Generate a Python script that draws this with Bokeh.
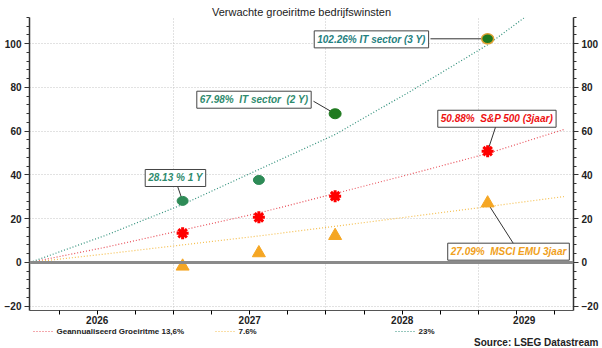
from bokeh.plotting import figure
from bokeh.layouts import column
from bokeh.models import (Range1d, FixedTicker, SingleIntervalTicker, LinearAxis,
                          Label, Span)
from bokeh.core.properties import value
from bokeh.embed import file_html
from bokeh.resources import INLINE

# ---------------- data ----------------
START = 2026.06  # start of the projection (years)
# growth curves (years from start, cumulative %)
t_line = [0, 0.5, 1, 1.5, 2, 2.5, 3, 3.5]
red_136 = [0, 7.0, 14.8, 22.6, 31.5, 40.5, 49.8, 60.8]
orange_76 = [0, 3.9, 8.0, 12.1, 16.5, 21.0, 25.5, 30.1]
t_green = [0, 0.5, 1, 1.5, 2, 2.5, 3, 3.3]
green_23 = [0, 12.5, 26.5, 42.5, 58.5, 78.5, 99.5, 115.0]

# estimates (years from start)
t_pts = [1, 1.5, 2, 3]
it_sector = [28.13, 37.7, 67.98, 102.26]
sp500 = [13.3, 20.6, 30.3, 50.88]
msci_emu = [-1.8, 4.3, 12.2, 27.09]

year_labels = ["2026", "2027", "2028", "2029"]
legend_labels = ["Geannualiseerd Groeiritme 13,6%", "7.6%", "23%"]
title_text = "Verwachte groeiritme bedrijfswinsten"
source_text = "Source: LSEG Datastream"

FONT = "Liberation Sans"
GREEN_LINE = "#2f8f7a"
RED_LINE = "#e8505a"
ORANGE_LINE = "#f5bf50"
NB = "\u00a0"

p = figure(width=602, height=326, output_backend="svg", toolbar_location=None,
           x_range=Range1d(2026.056, 2029.623), y_range=Range1d(-22, 112),
           min_border_left=29, min_border_right=29, min_border_top=17,
           min_border_bottom=15, outline_line_color=None,
           background_fill_color="white", border_fill_color="white")
p.frame_align = False
p.title.text = title_text
p.title.align = "center"
p.title.text_font = FONT
p.title.text_font_size = "11px"
p.title.text_font_style = "normal"
p.title.text_color = "#222222"
p.title.standoff = 0

xs = lambda ts: [START + t for t in ts]

# grid
p.xgrid.ticker = FixedTicker(ticks=[2027, 2028, 2029])
for g in (p.xgrid, p.ygrid):
    g.grid_line_color = "#c4c4c4"
    g.grid_line_dash = "1 2"
    g.grid_line_width = 1

p.add_layout(Span(location=0, dimension="width", line_color="#8a8a8a", line_width=3))

# curves
p.line(xs(t_line), red_136, line_color=RED_LINE, line_width=1.2, line_dash="1 2")
p.line(xs(t_line), orange_76, line_color=ORANGE_LINE, line_width=1.2, line_dash="1 2")
p.line(xs(t_green), green_23, line_color=GREEN_LINE, line_width=1.2, line_dash="1 2")

# annotations: text, colour, box centre (x, y), leader start (x, y), point index, series
ann = [
    ("28.13 % 1 Y", "#2e8b6e", (2027.013, 38.6), (2027.02, 36.2), 0, it_sector),
    (f"67.98%{NB} IT sector{NB} (2 Y)", "#2e8b6e", (2027.528, 74.4), (2027.918, 73.7), 2, it_sector),
    ("102.26% IT sector (3 Y)", "#1f8080", (2028.298, 102.0), (2028.685, 102.26), 3, it_sector),
    (f"50.88%{NB} S&P 500 (3jaar)", "#ee1111", (2029.121, 65.7), (2029.118, 63.2), 3, sp500),
    (f"27.09%{NB} MSCI EMU 3jaar", "#f0a020", (2029.197, 4.9), (2029.243, 7.1), 3, msci_emu),
]
p.segment(x0=[a[3][0] for a in ann], y0=[a[3][1] for a in ann],
          x1=[START + t_pts[a[4]] for a in ann], y1=[a[5][a[4]] for a in ann],
          line_color="#333333", line_width=1)

# markers
p.ellipse(xs(t_pts[:2]), it_sector[:2], width=11, height=9, width_units="screen",
          height_units="screen", fill_color="#2e8b57", line_color="#2e8b57")
p.ellipse(xs(t_pts[2:3]), it_sector[2:3], width=12, height=10, width_units="screen",
          height_units="screen", fill_color="#1f7a1f", line_color="#1f7a1f")
p.ellipse(xs(t_pts[3:]), it_sector[3:], width=12, height=10, width_units="screen",
          height_units="screen", fill_color="#1f7a1f", line_color="#e0a030", line_width=1.5)
p.scatter(xs(t_pts), sp500, marker="asterisk", size=12, line_color="#ff0000", line_width=3)
p.scatter(xs(t_pts), msci_emu, marker="triangle", size=13, fill_color="#f5a623",
          line_color="#f5a623")

# annotation boxes
for text, col, (bx, by), _, _, _ in ann:
    p.add_layout(Label(x=bx, y=by, text=text, text_align="center", text_baseline="middle",
                       text_font=FONT, text_font_size="10px", text_font_style="bold italic",
                       text_alpha=0, background_fill_color="#8c8c8c", padding=3,
                       x_offset=2, y_offset=-2))
    p.add_layout(Label(x=bx, y=by, text=text, text_align="center", text_baseline="middle",
                       text_font=FONT, text_font_size="10px", text_font_style="bold italic",
                       text_color=col, background_fill_color="white",
                       border_line_color="#444444", border_line_width=1, padding=3))

# axes
p.xaxis.ticker = FixedTicker(ticks=[2026.5, 2027.5, 2028.5, 2029.3],
                             minor_ticks=[2026.25, 2026.5, 2026.75, 2027, 2027.25, 2027.5,
                                          2027.75, 2028, 2028.25, 2028.5, 2028.75, 2029,
                                          2029.25, 2029.5])
p.xaxis.major_label_overrides = {2026.5: year_labels[0], 2027.5: year_labels[1],
                                 2028.5: year_labels[2], 2029.3: year_labels[3]}
p.xaxis.major_tick_line_color = None
p.xaxis.major_tick_out = 1
p.xaxis.major_tick_in = 0
p.xaxis.minor_tick_out = 4
p.xaxis.minor_tick_in = 0
p.xaxis.axis_line_color = "#555555"
p.xaxis.major_label_standoff = 1

yticker = SingleIntervalTicker(interval=20, num_minor_ticks=5)
p.yaxis.ticker = yticker
p.add_layout(LinearAxis(ticker=yticker), "right")
for ax in p.yaxis:
    ax.major_tick_out = 5
    ax.major_tick_in = 0
    ax.minor_tick_out = 3
    ax.minor_tick_in = 0
    ax.axis_line_color = "#333333"
    ax.axis_line_width = 1.5
    ax.major_tick_line_color = "#333333"
    ax.minor_tick_line_color = "#333333"
    ax.major_label_standoff = 3
for ax in list(p.xaxis) + list(p.yaxis):
    ax.major_label_text_font = FONT
    ax.major_label_text_font_size = "10px"
    ax.major_label_text_font_style = "bold"
    ax.major_label_text_color = "#222222"

# ---------- footer: legend + source ----------
q = figure(width=602, height=22, output_backend="svg", toolbar_location=None, title=None,
           x_range=Range1d(0, 602), y_range=Range1d(0, 22),
           min_border=0, min_border_left=0, min_border_right=0, min_border_top=0,
           min_border_bottom=0, outline_line_color=None, x_axis_type=None,
           y_axis_type=None, background_fill_color="white", border_fill_color="white")
q.frame_align = False
q.grid.visible = False
leg_x = [33, 215, 395]
leg_cols = [RED_LINE, ORANGE_LINE, GREEN_LINE]
q.multi_line(xs=[[x, x + 19] for x in leg_x], ys=[[17, 17]] * 3, line_color=leg_cols,
             line_width=1.2, line_dash="1 2")
q.text(x=[x + 23 for x in leg_x], y=[17] * 3, text=legend_labels, text_font=value(FONT),
       text_font_size="8px", text_font_style="bold", text_color="#222222",
       text_baseline="middle")
q.text(x=[598], y=[6], text=[source_text], text_font=value(FONT), text_font_size="10px",
       text_font_style="bold", text_color="#222222", text_baseline="middle",
       text_align="right")

layout = column(p, q, spacing=0)
open("out.html", "w").write(file_html(layout, INLINE))
